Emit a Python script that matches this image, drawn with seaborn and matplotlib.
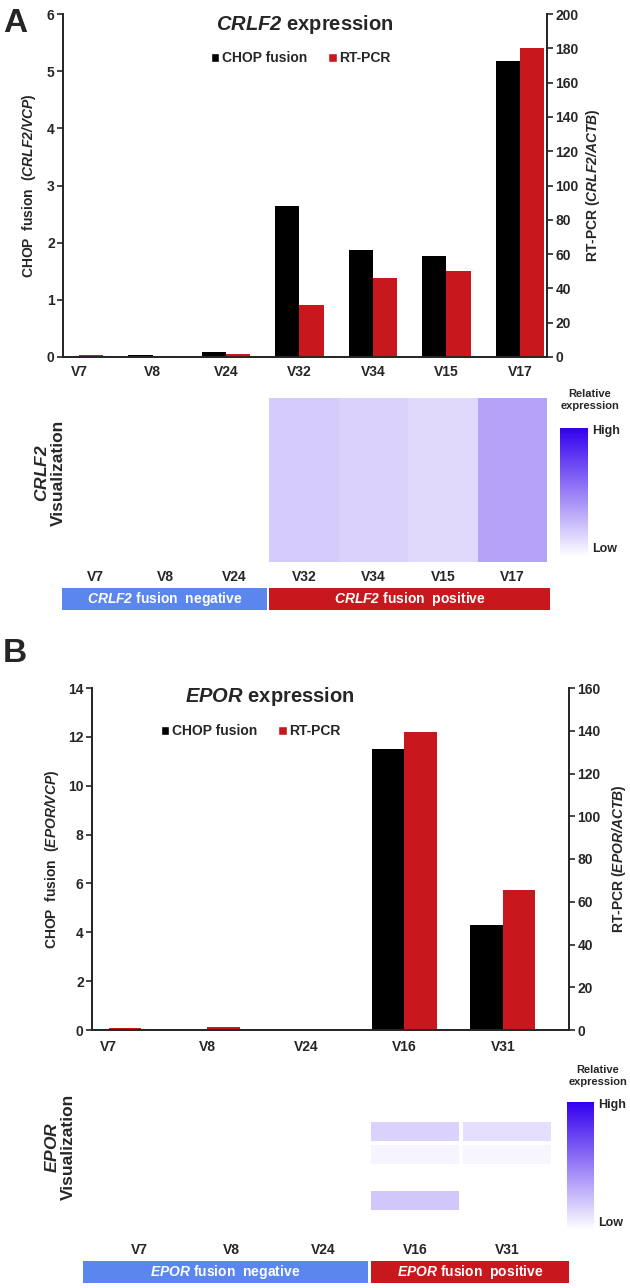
import matplotlib
matplotlib.use('Agg')
import numpy as np
import pandas as pd
import matplotlib.pyplot as plt
import seaborn as sns
from matplotlib.colors import LinearSegmentedColormap
from matplotlib.patches import Patch, Rectangle

# values
samples_a = ['V7', 'V8', 'V24', 'V32', 'V34', 'V15', 'V17']
chop_a = [0.01, 0.04, 0.08, 2.65, 1.88, 1.77, 5.18]          # CRLF2/VCP
rtpcr_a = [1.0, 0.5, 1.9, 30.5, 46.3, 50.0, 180.0]           # CRLF2/ACTB
vis_a = [[0, 0, 0, 0.20, 0.18, 0.15, 0.36]]

samples_b = ['V7', 'V8', 'V24', 'V16', 'V31']
chop_b = [0.0, 0.0, 0.0, 11.49, 4.28]                        # EPOR/VCP
rtpcr_b = [0.9, 1.6, 0.0, 139.4, 65.5]                       # EPOR/ACTB
vis_b = [[0, 0, 0, 0, 0],
         [0, 0, 0, 0.18, 0.13],
         [0, 0, 0, 0.045, 0.04],
         [0, 0, 0, 0, 0],
         [0, 0, 0, 0.22, 0],
         [0, 0, 0, 0, 0]]

series = ['CHOP fusion', 'RT-PCR']
colors = {'CHOP fusion': '#000000', 'RT-PCR': '#c8181d'}
neg_color = '#5a86ee'
pos_color = '#c8181d'

sns.set_style('ticks')
plt.rcParams['font.family'] = ['Liberation Sans', 'DejaVu Sans']
plt.rcParams['font.weight'] = 'bold'
plt.rcParams['axes.labelweight'] = 'bold'
plt.rcParams['mathtext.fontset'] = 'custom'
# \mathsf is used for the italic gene names so digits are slanted too
plt.rcParams['mathtext.sf'] = 'Liberation Sans:italic:bold'
plt.rcParams['mathtext.it'] = 'Liberation Sans:italic:bold'
plt.rcParams['mathtext.rm'] = 'Liberation Sans:bold'
plt.rcParams['mathtext.bf'] = 'Liberation Sans:bold'

W, H = 630, 1288
fig = plt.figure(figsize=(6.3, 12.88), dpi=100)
blues = LinearSegmentedColormap.from_list('vis', ['#ffffff', '#3300ee'])


def rect(l, t, r, b):
    # pixel box -> figure fraction
    return [l / W, 1 - b / H, (r - l) / W, (b - t) / H]


def it(s):
    return '$\\mathsf{%s}$' % s


def bar_panel(box, samples, chop, rtpcr, gene, lticks, rticks, xlim, lab_x, pad):
    ax = fig.add_axes(rect(*box))
    ax2 = ax.twinx()
    df_l = pd.DataFrame({'sample': samples, 'series': 'CHOP fusion', 'value': chop})
    df_r = pd.DataFrame({'sample': samples, 'series': 'RT-PCR', 'value': rtpcr})
    for a, d in ((ax, df_l), (ax2, df_r)):
        sns.barplot(data=d, x='sample', y='value', hue='series', hue_order=series,
                    order=samples, palette=colors, width=0.66, saturation=1,
                    dodge=True, errorbar=None, legend=False, ax=a, linewidth=0)
    ax.set_xlim(*xlim)
    ax.set_ylim(lticks[0], lticks[-1])
    ax.set_yticks(lticks)
    ax2.set_ylim(rticks[0], rticks[-1])
    ax2.set_yticks(rticks)
    for a in (ax, ax2):
        a.spines['top'].set_visible(False)
        for s in a.spines.values():
            s.set_linewidth(1.3)
        a.tick_params(axis='y', labelsize=10, length=4, width=1.2, pad=2)
        a.set_xlabel('')
    ax.tick_params(axis='x', length=0, labelsize=10, pad=pad)
    ax.set_ylabel('CHOP  fusion  (' + it(gene + '/VCP') + ')', fontsize=10)
    ax2.set_ylabel('RT-PCR (' + it(gene + '/ACTB') + ')', fontsize=10)
    ax.yaxis.set_label_coords(lab_x[0], 0.5)
    ax2.yaxis.set_label_coords(lab_x[1], 0.5)
    return ax


def vis_panel(box, cbox, values, samples, lw, pad):
    ax = fig.add_axes(rect(*box))
    cax = fig.add_axes(rect(*cbox))
    sns.heatmap(pd.DataFrame(values, columns=samples), cmap=blues, vmin=0, vmax=1,
                linewidths=lw, linecolor='white', cbar_ax=cax,
                cbar_kws={'ticks': [0.07, 0.985]},
                xticklabels=samples, yticklabels=False, ax=ax)
    ax.tick_params(axis='x', length=0, labelsize=10, pad=pad, rotation=0)
    ax.tick_params(axis='y', length=0)
    ax.collections[0].colorbar.outline.set_visible(False)
    cax.set_yticklabels(['Low', 'High'])
    cax.tick_params(axis='y', direction='in', left=True, right=True, length=4,
                    width=1, color='#e4e0f4', labelsize=9, pad=3)
    return ax


def group_boxes(y0, y1, neg, pos, gene):
    for (x0, x1), c, word in ((neg, neg_color, 'negative'), (pos, pos_color, 'positive')):
        fig.add_artist(Rectangle((x0 / W, 1 - y1 / H), (x1 - x0) / W, (y1 - y0) / H,
                                 transform=fig.transFigure, facecolor=c, edgecolor='none'))
        fig.text((x0 + x1) / 2 / W, 1 - (y0 + y1) / 2 / H,
                 it(gene) + ' fusion  ' + word, color='white',
                 ha='center', va='center', fontsize=10)


def legend(xc, yc):
    handles = [Patch(facecolor=colors[s]) for s in series]
    fig.legend(handles, series, loc='center', bbox_to_anchor=(xc / W, 1 - yc / H),
               ncol=2, frameon=False, fontsize=10, handlelength=0.6, handleheight=0.6,
               handletextpad=0.2, columnspacing=1.5, borderpad=0)


# ---- panel A ----
fig.text(3 / W, 1 - 23 / H, 'A', fontsize=24, ha='left', va='center')
bar_panel((63, 14, 547, 357), samples_a, chop_a, rtpcr_a, 'CRLF2',
          list(range(0, 7)), list(range(0, 201, 20)), (-0.22, 6.37), (-0.052, 1.076), 6)
fig.text(305 / W, 1 - 25 / H, it('CRLF2') + ' expression', fontsize=14.5,
         ha='center', va='center')
legend(301, 58)
vis_panel((61, 398, 547, 562), (560, 428, 588, 557), vis_a, samples_a, 0, 6)
fig.text(590 / W, 1 - 400 / H, 'Relative\nexpression', fontsize=8, ha='center',
         va='center', linespacing=1.2)
fig.text(50 / W, 1 - 473 / H, it('CRLF2') + '\nVisualization', rotation=90,
         fontsize=12.5, ha='center', va='center', linespacing=1.1)
group_boxes(588, 610, (62, 267), (269, 550), 'CRLF2')

# ---- panel B ----
fig.text(3 / W, 1 - 653 / H, 'B', fontsize=24, ha='left', va='center')
bar_panel((92, 688, 569, 1030), samples_b, chop_b, rtpcr_b, 'EPOR',
          list(range(0, 15, 2)), list(range(0, 161, 20)), (-0.17, 4.67), (-0.065, 1.086), 7)
fig.text(270 / W, 1 - 697 / H, it('EPOR') + ' expression', fontsize=14.5,
         ha='center', va='center')
legend(251, 731)
vis_panel((94, 1097, 553, 1235), (567, 1102, 594, 1230), vis_b, samples_b, 1.5, 6)
fig.text(598 / W, 1 - 1076 / H, 'Relative\nexpression', fontsize=8, ha='center',
         va='center', linespacing=1.2)
fig.text(60 / W, 1 - 1147 / H, it('EPOR') + '\nVisualization', rotation=90,
         fontsize=12.5, ha='center', va='center', linespacing=1.1)
group_boxes(1261, 1283, (83, 368), (371, 569), 'EPOR')

fig.savefig('out.png', dpi=100)
